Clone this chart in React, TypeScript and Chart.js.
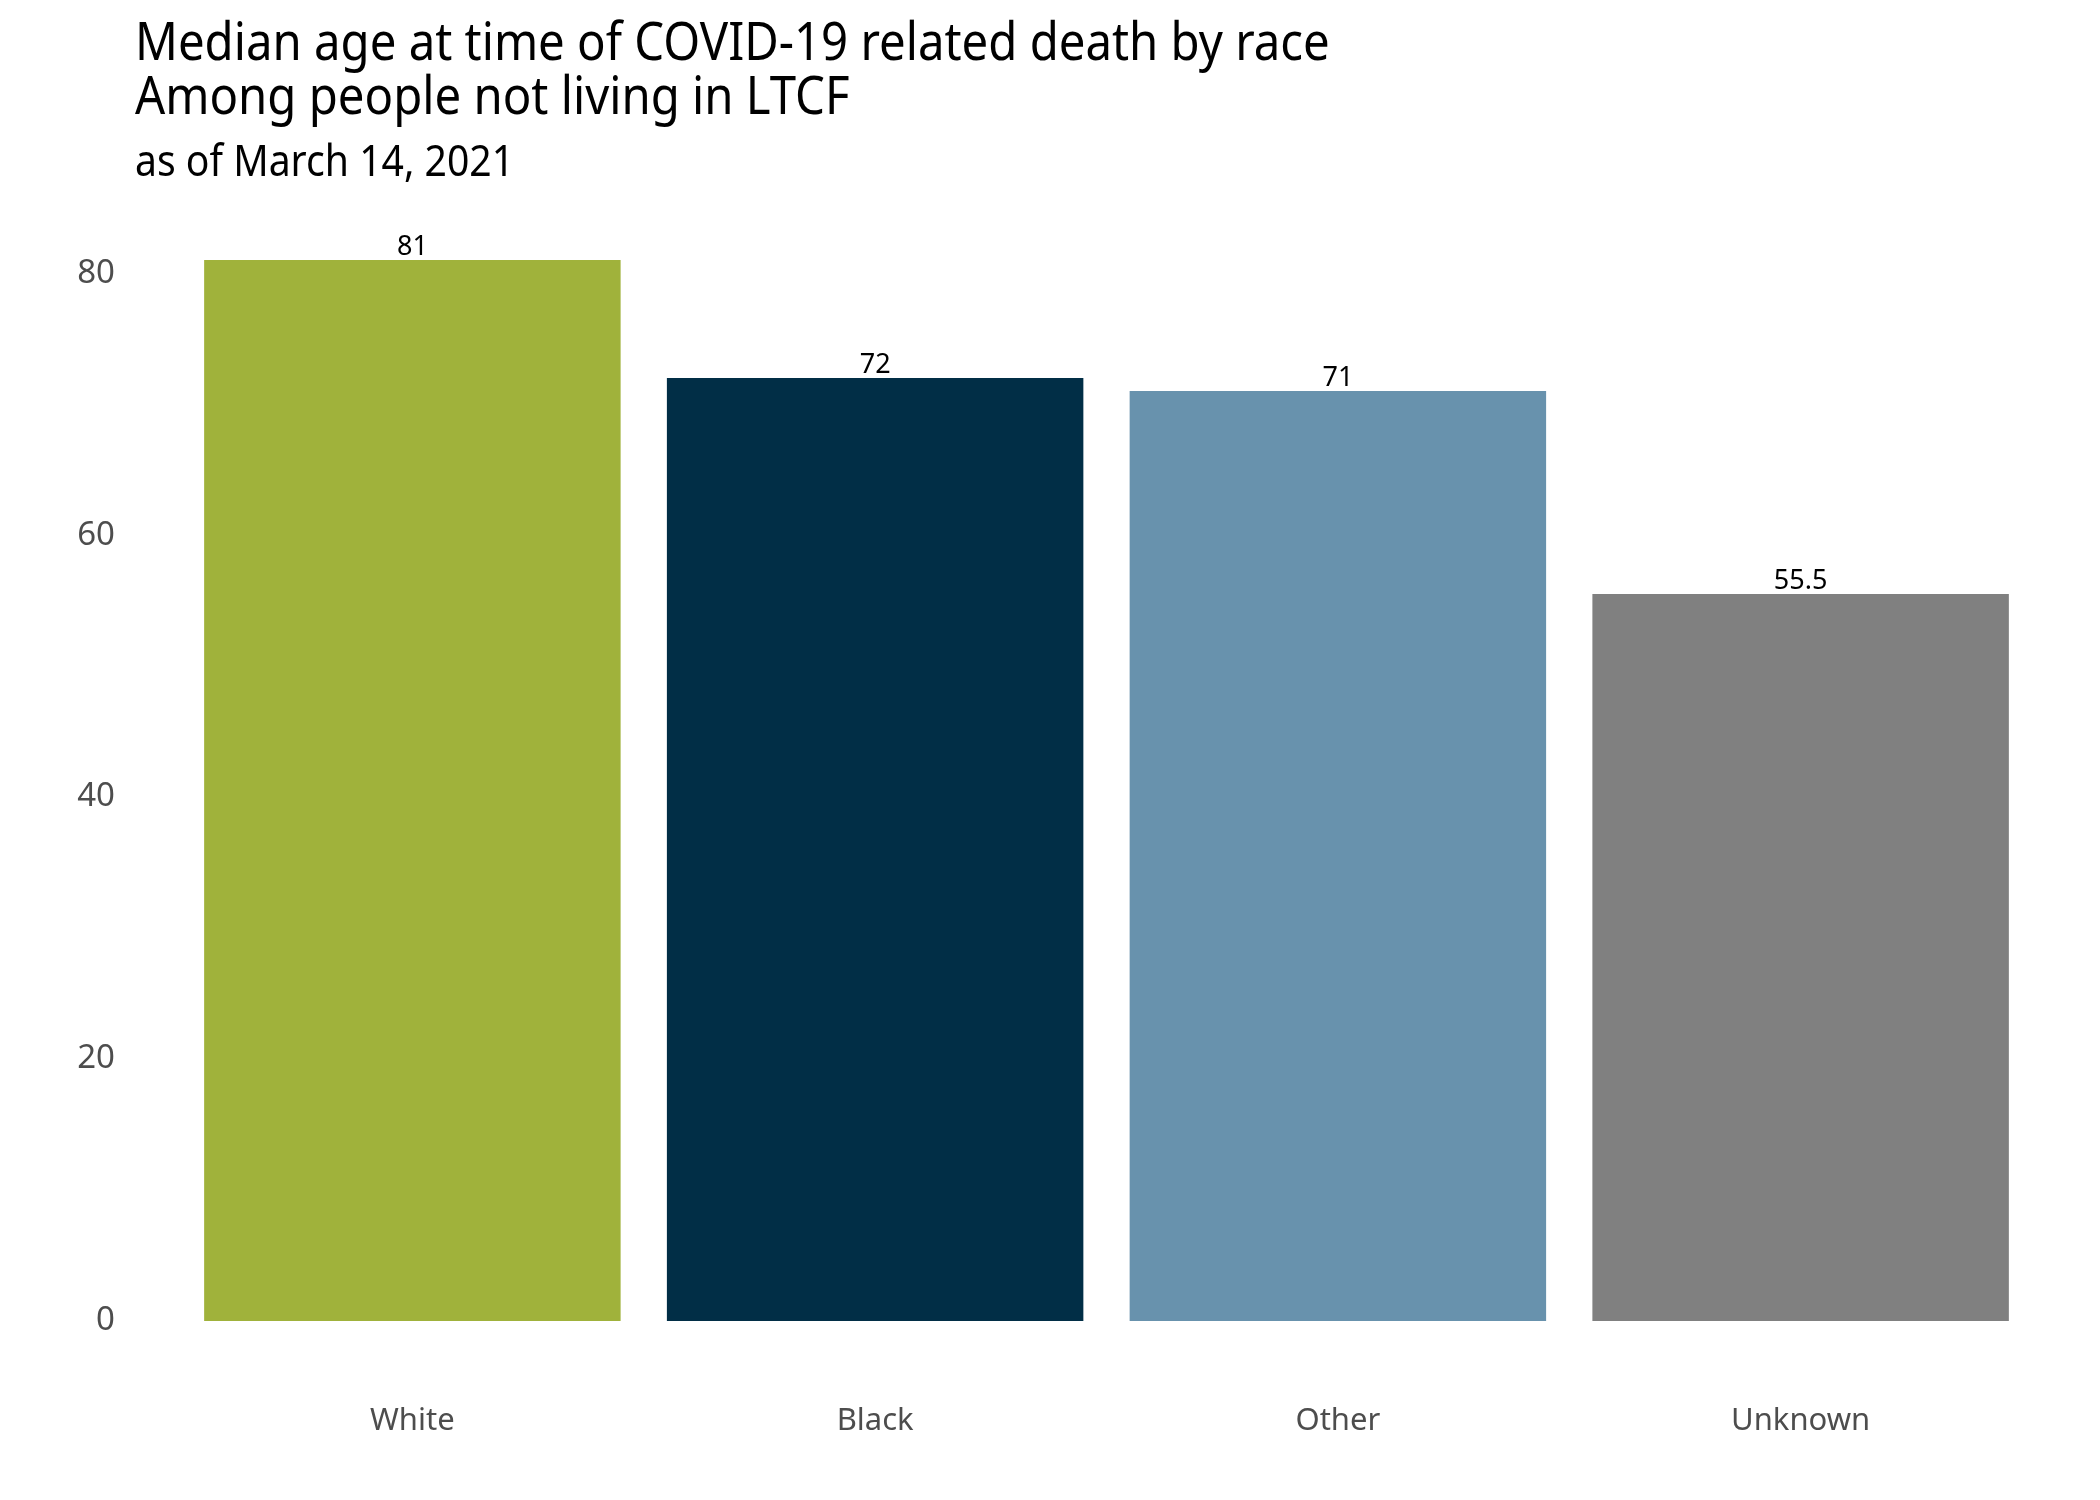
import React, { useEffect, useRef } from "react";
import { Chart, registerables } from "chart.js";

Chart.register(...registerables);

const categories = ["White", "Black", "Other", "Unknown"];
const medianAge = [81, 72, 71, 55.5];
const barColors = ["#a0b23b", "#012e46", "#6892ad", "#808080"];
const yTicks = [0, 20, 40, 60, 80];
const titleLines = [
  "Median age at time of COVID-19 related death by race",
  "Among people not living in LTCF",
];
const subtitleText = "as of March 14, 2021";

const FONT = "'Noto Sans', 'Open Sans', sans-serif";

const titlePlugin = {
  id: "customTitles",
  afterDraw(chart: any) {
    const ctx = chart.ctx;
    ctx.save();
    ctx.fillStyle = "#000000";
    ctx.textAlign = "left";
    ctx.textBaseline = "alphabetic";
    const sx = 0.91;
    ctx.translate(135, 0);
    ctx.scale(sx, 1);
    ctx.font = `52px ${FONT}`;
    ctx.fillText(titleLines[0], 0, 60);
    ctx.fillText(titleLines[1], 0, 114);
    ctx.font = `43px ${FONT}`;
    ctx.fillText(subtitleText, 0, 176);
    ctx.restore();
  },
};

const valueLabelPlugin = {
  id: "valueLabels",
  afterDatasetsDraw(chart: any) {
    const ctx = chart.ctx;
    const meta = chart.getDatasetMeta(0);
    const data = chart.data.datasets[0].data;
    ctx.save();
    ctx.fillStyle = "#000000";
    ctx.font = `27px ${FONT}`;
    ctx.textAlign = "center";
    ctx.textBaseline = "alphabetic";
    meta.data.forEach((bar: any, i: number) => {
      ctx.fillText(String(data[i]), bar.x, bar.y - 5);
    });
    ctx.restore();
  },
};

export default function App() {
  const canvasRef = useRef<HTMLCanvasElement | null>(null);

  useEffect(() => {
    document.body.style.margin = "0";
    const canvas = canvasRef.current;
    if (!canvas) return;
    const chart = new Chart(canvas, {
      type: "bar",
      data: {
        labels: categories,
        datasets: [
          {
            data: medianAge,
            backgroundColor: barColors,
            borderWidth: 0,
            barPercentage: 0.9,
            categoryPercentage: 1.0,
          },
        ],
      },
      options: {
        responsive: false,
        animation: false,
        devicePixelRatio: 1,
        layout: { padding: { top: 207, right: 68, bottom: 0, left: 0 } },
        plugins: {
          legend: { display: false },
          title: { display: false },
          tooltip: { enabled: false },
        },
        scales: {
          x: {
            offset: true,
            grid: { display: false, drawTicks: false },
            border: { display: false },
            ticks: {
              color: "#4d4d4d",
              font: { family: FONT, size: 31 },
              padding: 29,
            },
            afterFit(scale: any) {
              scale.height = 126;
            },
          },
          y: {
            min: -4.05,
            max: 85.05,
            grid: { display: false, drawTicks: false },
            border: { display: false },
            ticks: {
              color: "#4d4d4d",
              font: { family: FONT, size: 33 },
              padding: 66,
            },
            afterBuildTicks(scale: any) {
              scale.ticks = yTicks.map((v) => ({ value: v }));
            },
            afterFit(scale: any) {
              scale.width = 181;
            },
          },
        },
      },
      plugins: [titlePlugin, valueLabelPlugin],
    });
    return () => chart.destroy();
  }, []);

  return (
    <div style={{ width: 2100, height: 1500, background: "#ffffff" }}>
      <canvas ref={canvasRef} width={2100} height={1500} style={{ display: "block" }} />
    </div>
  );
}
